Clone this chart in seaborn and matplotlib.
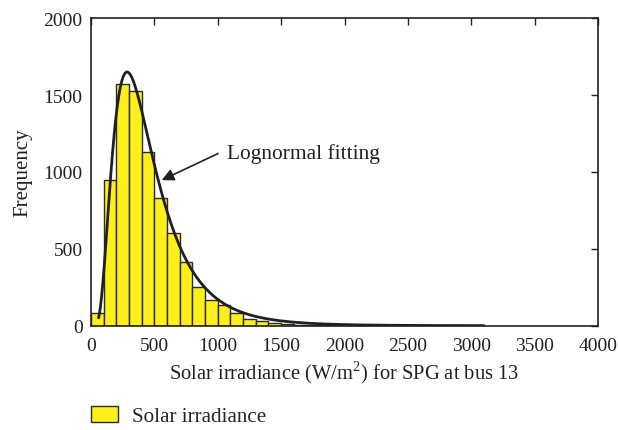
import numpy as np
import pandas as pd
import matplotlib
matplotlib.use("Agg")
import matplotlib.pyplot as plt
import seaborn as sns

# ---- data ----
bin_starts = list(range(0, 3100, 100))
bin_counts = [85, 950, 1575, 1530, 1130, 830, 600, 415, 255, 165,
              132, 85, 46, 28, 20, 9, 7, 5, 4, 3,
              3, 2, 2, 1, 1, 1, 1, 0, 1, 0, 1]
bin_width = 100
# lognormal fit parameters (mu, sigma of ln x) and scale (N * bin width)
fit_mu = 6.0
fit_sigma = 0.59
fit_scale = 827500
x_ticks = [0, 500, 1000, 1500, 2000, 2500, 3000, 3500, 4000]
y_ticks = [0, 500, 1000, 1500, 2000]

sns.set_style("white")
plt.rcParams['font.family'] = ['Liberation Serif', 'DejaVu Serif']
plt.rcParams['mathtext.fontset'] = 'custom'
plt.rcParams['mathtext.rm'] = 'Liberation Serif'

fs_tick = 14.0
fs_label = 14.8
ink = "#231f20"
fig = plt.figure(figsize=(6.18, 4.31), dpi=100)
ax = fig.add_axes([91/618, 1-326.7/431, (598-91)/618, (326.7-19.3)/431])

centers = [s + bin_width/2 for s in bin_starts]
hist_df = pd.DataFrame({"x": centers, "w": bin_counts})
edges = bin_starts + [bin_starts[-1] + bin_width]
sns.histplot(data=hist_df, x="x", weights="w", bins=edges, ax=ax,
             color="#FDF01A", edgecolor="#2a2a2a", linewidth=1.0,
             alpha=1, label="Solar irradiance")

xs = np.linspace(60, 3100, 800)
ys = fit_scale / (xs * fit_sigma * np.sqrt(2*np.pi)) * \
    np.exp(-(np.log(xs) - fit_mu)**2 / (2*fit_sigma**2))
sns.lineplot(x=xs, y=ys, ax=ax, color=ink, linewidth=2.0, legend=False)

ax.set_xlim(0, 4000)
ax.set_ylim(0, 2000)
ax.set_xticks(x_ticks)
ax.set_yticks(y_ticks)
ax.tick_params(direction="in", length=5, width=1, top=True, right=True,
               labelsize=fs_tick, pad=6, colors=ink)
ax.tick_params(axis="x", pad=8)
for s in ax.spines.values():
    s.set_visible(True)
    s.set_color(ink)
    s.set_linewidth(1.2)

ax.set_xlabel("Solar irradiance (W/m$^2$) for SPG at bus 13", fontsize=fs_label,
              color=ink, labelpad=3)
ax.set_ylabel("Frequency", fontsize=15, color=ink, labelpad=8)

ax.text(1073, 1125, "Lognormal fitting", fontsize=15.4, color=ink,
        va="center", ha="left")
ax.annotate("", xy=(558, 947), xytext=(1002, 1120),
            arrowprops=dict(arrowstyle="-|>", color=ink, lw=1.2,
                            mutation_scale=18, shrinkA=0, shrinkB=0))

handles, labels = ax.get_legend_handles_labels()
fig.legend(handles[:1], labels[:1], loc="center left",
           bbox_to_anchor=(91/618, 1-417/431), frameon=False,
           fontsize=15.2, handlelength=1.3, handleheight=0.85,
           handletextpad=0.65, borderpad=0, borderaxespad=0)

fig.savefig("out.png", dpi=100)
